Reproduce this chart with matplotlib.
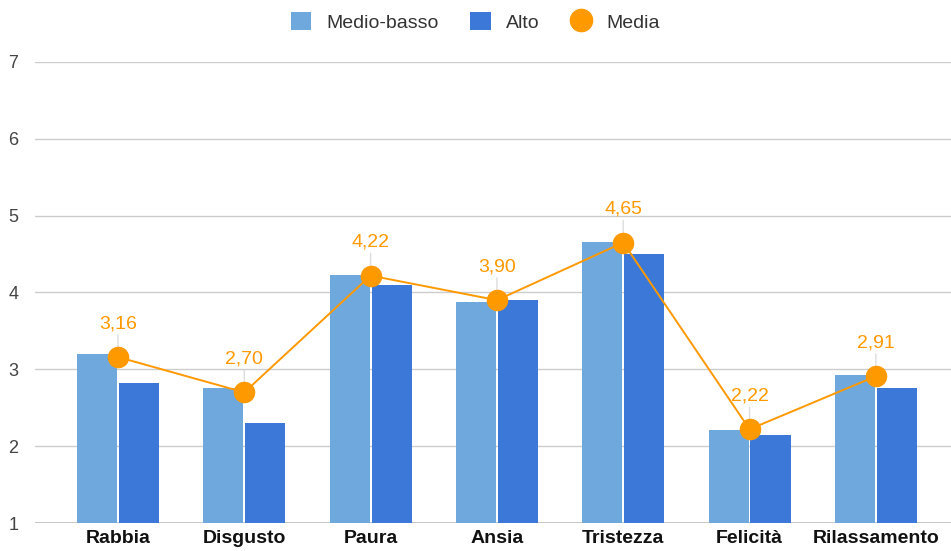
import numpy as np
import matplotlib.pyplot as plt
from matplotlib.lines import Line2D
from matplotlib.patches import Patch

plt.rcParams['font.family'] = ['Liberation Sans', 'DejaVu Sans']

categorie = ['Rabbia', 'Disgusto', 'Paura', 'Ansia', 'Tristezza', 'Felicità', 'Rilassamento']
medio_basso = [3.20, 2.76, 4.23, 3.88, 4.66, 2.21, 2.93]
alto = [2.82, 2.30, 4.10, 3.90, 4.50, 2.15, 2.76]
media = [3.16, 2.70, 4.22, 3.90, 4.65, 2.22, 2.91]

c_chiaro = '#6fa8dc'
c_scuro = '#3c78d8'
c_media = '#ff9900'

fig = plt.figure(figsize=(9.51, 5.51), dpi=100)
ax = fig.add_axes([35/951, 1 - 523/551, 1 - 35/951, (523 - 62)/551])

x = np.arange(len(categorie))
w = 0.317
ax.bar(x - 0.166, medio_basso, w, bottom=0, color=c_chiaro, zorder=2)
ax.bar(x + 0.166, alto, w, bottom=0, color=c_scuro, zorder=2)

ax.plot(x, media, color=c_media, lw=1.4, marker='o', ms=14.5, zorder=4)
for xi, v in zip(x, media):
    ax.annotate(f'{v:.2f}'.replace('.', ','), (xi, v), xytext=(0, 18),
                textcoords='offset points', ha='center', va='bottom',
                color=c_media, fontsize=14,
                arrowprops=dict(arrowstyle='-', color='#dddddd', lw=1,
                                shrinkA=0, shrinkB=0), zorder=3)

ax.set_ylim(1, 7)
ax.set_xlim(-0.657, 6.595)
ax.set_yticks(range(1, 8))
ax.set_xticks(x)
ax.set_xticklabels(categorie, fontweight='bold', fontsize=14, color='#111111')
ax.grid(axis='y', color='#cccccc', lw=1, zorder=0)
for s in ax.spines.values():
    s.set_visible(False)
ax.tick_params(axis='y', length=0, pad=12, labelsize=13, labelcolor='#444444')
ax.tick_params(axis='x', length=0, pad=5)
ax.axhline(1, color='#bbbbbb', lw=1.2, zorder=1)

handles = [Patch(facecolor=c_chiaro), Patch(facecolor=c_scuro),
           Line2D([], [], ls='none', marker='o', ms=16, color=c_media)]
fig.legend(handles, ['Medio-basso', 'Alto', 'Media'], loc='center',
           bbox_to_anchor=(0.5, 1 - 22/551), ncol=3, frameon=False,
           fontsize=14, handlelength=1.05, handleheight=1.05,
           columnspacing=1.6, handletextpad=0.8, labelcolor='#333333')

fig.savefig('out.png', dpi=100)
